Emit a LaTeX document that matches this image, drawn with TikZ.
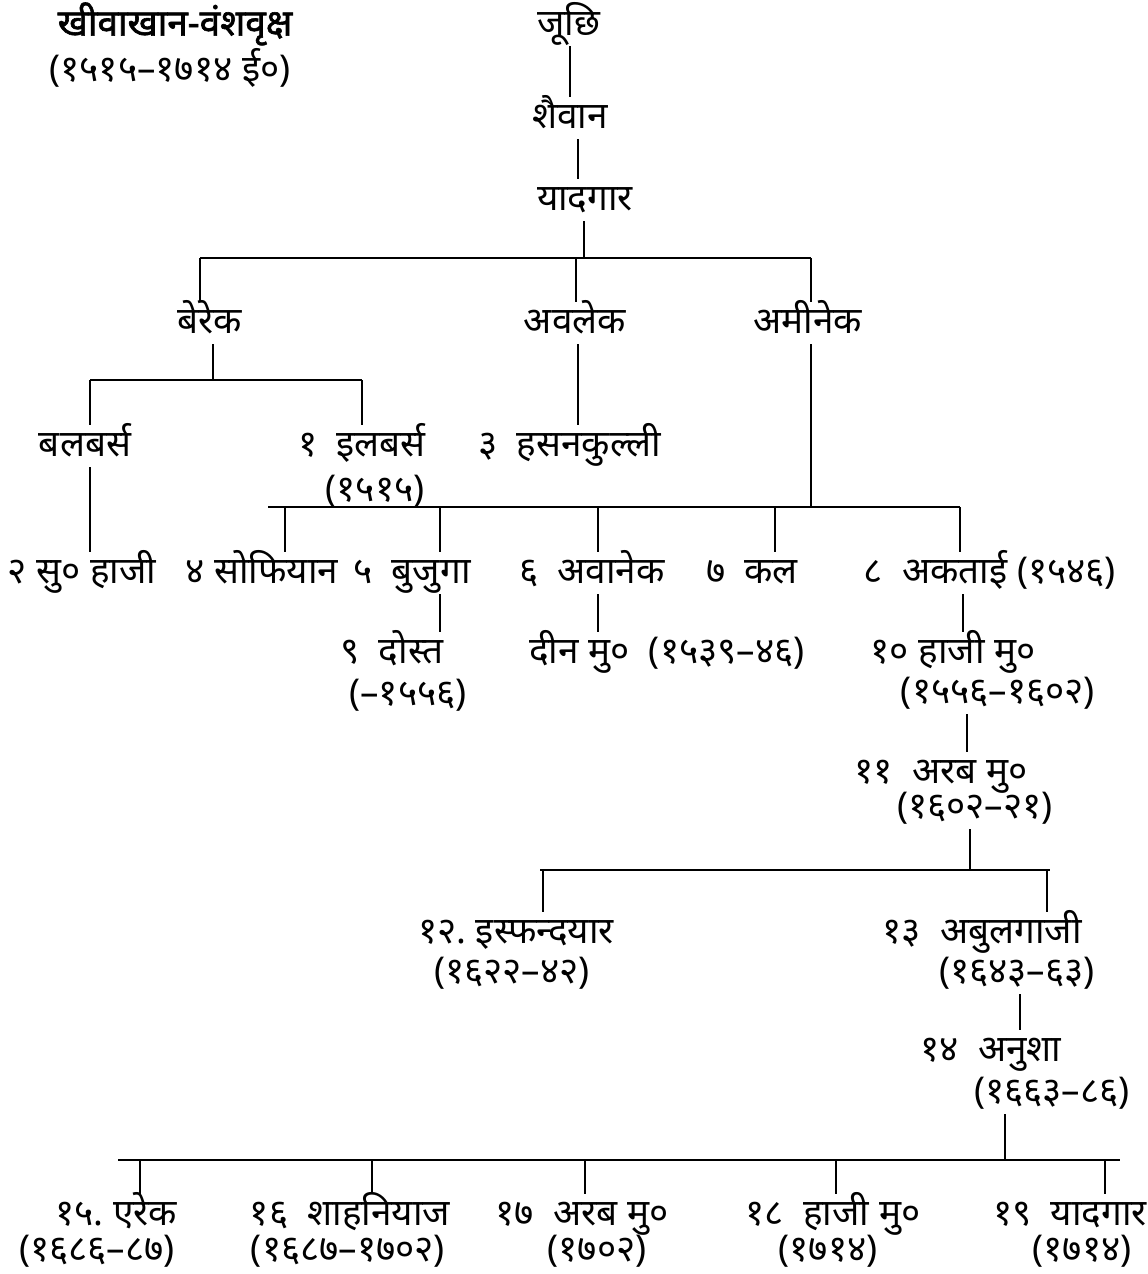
\documentclass[tikz,border=0pt]{standalone}
\usepackage{fontspec}
\setmainfont[Script=Devanagari]{Noto Sans}
\newfontfamily\titlefont[Script=Devanagari,FakeBold=1.6]{Noto Sans}
\begin{document}
\begin{tikzpicture}[x=1cm,y=1cm,
  every node/.style={font=\fontsize{21}{25}\selectfont},
  person/.style={inner sep=1pt,text height=17pt,text depth=5pt},
  kin/.style={line width=0.9pt}]
\useasboundingbox (0,0) rectangle (22.96,-25.48);
\node[person,font=\titlefont\fontsize{21}{25}\selectfont] (title) at (3.5,-0.5) {खीवाखान-वंशवृक्ष};
\node[person] (titleyr) at (3.4,-1.42) {(१५१५–१७१४ ई०)};
\node[person] (juchi) at (11.38,-0.5) {जूछि};
\node[person] (shaivan) at (11.4,-2.36) {शैवान};
\node[person] (yadgar) at (11.7,-4.0) {यादगार};
\node[person] (berek) at (4.2,-6.46) {बेरेक};
\node[person] (avlek) at (11.5,-6.46) {अवलेक};
\node[person] (aminek) at (16.16,-6.46) {अमीनेक};
\node[person] (balbars) at (1.7,-8.92) {बलबर्स};
\node[person] (ilbars) at (7.24,-8.92) {१~~इलबर्स};
\node[person] (ilbarsyr) at (7.5,-9.82) {(१५१५)};
\node[person] (hasan) at (11.4,-8.92) {३~~हसनकुल्ली};
\node[person] (suhaji) at (1.64,-11.46) {२~सु० हाजी};
\node[person] (sofiyan) at (5.24,-11.46) {४ सोफियान};
\node[person] (bujuga) at (8.24,-11.46) {५~~बुजुगा};
\node[person] (avanek) at (11.84,-11.46) {६~~अवानेक};
\node[person] (kal) at (15.04,-11.46) {७~~कल};
\node[person] (aktai) at (19.8,-11.46) {८~~अकताई (१५४६)};
\node[person] (dost) at (7.84,-13.06) {९~~दोस्त};
\node[person] (dostyr) at (8.16,-13.9) {(–१५५६)};
\node[person] (din) at (13.34,-13.06) {दीन मु०~~(१५३९–४६)};
\node[person] (haji) at (19.06,-13.06) {१० हाजी मु०};
\node[person] (hajiyr) at (19.96,-13.86) {(१५५६–१६०२)};
\node[person] (arab) at (18.82,-15.46) {११~~अरब मु०};
\node[person] (arabyr) at (19.5,-16.16) {(१६०२–२१)};
\node[person] (isf) at (10.32,-18.66) {१२.~इस्फन्दयार};
\node[person] (isfyr) at (10.24,-19.46) {(१६२२–४२)};
\node[person] (abul) at (19.64,-18.66) {१३~~अबुलगाजी};
\node[person] (abulyr) at (20.34,-19.46) {(१६४३–६३)};
\node[person] (anusha) at (19.82,-21.02) {१४~~अनुशा};
\node[person] (anushayr) at (21.04,-21.86) {(१६६३–८६)};
\node[person] (erek) at (2.32,-24.3) {१५.~एरेक};
\node[person] (erekyr) at (1.94,-25.02) {(१६८६–८७)};
\node[person] (shah) at (7.0,-24.3) {१६~~शाहनियाज};
\node[person] (shahyr) at (6.96,-25.02) {(१६८७–१७०२)};
\node[person] (arabb) at (11.64,-24.3) {१७~~अरब मु०};
\node[person] (arabbyr) at (11.94,-25.02) {(१७०२)};
\node[person] (hajib) at (16.66,-24.3) {१८~~हाजी मु०};
\node[person] (hajibyr) at (16.56,-25.02) {(१७१४)};
\node[person] (yadb) at (21.4,-24.3) {१९~~यादगार};
\node[person] (yadbyr) at (21.64,-25.02) {(१७१४)};
\coordinate (k1) at (11.4,-1.4);
\coordinate (k2) at (11.56,-3.1);
\coordinate (k3) at (11.68,-5.16);
\coordinate (k4) at (4.26,-7.6);
\coordinate (k5) at (1.8,-10);
\coordinate (k6) at (11.56,-7.6);
\coordinate (k7) at (16.22,-10.14);
\coordinate (k8) at (8.8,-12.2);
\coordinate (k9) at (11.96,-12.2);
\coordinate (k10) at (19.26,-12.2);
\coordinate (k11) at (19.34,-14.6);
\coordinate (k12) at (19.4,-17.4);
\coordinate (k13) at (20.4,-20.2);
\coordinate (k14) at (20.1,-23.2);
\draw[kin] (k1 |- juchi.south) -- (k1 |- shaivan.north);
\draw[kin] (k2 |- shaivan.south) -- (k2 |- yadgar.north);
\draw[kin] (k3 |- yadgar.south) -- (k3);
\draw[kin] (k4 |- berek.south) -- (k4);
\draw[kin] (k5 |- balbars.south) -- (k5 |- suhaji.north);
\draw[kin] (k6 |- avlek.south) -- (k6 |- hasan.north);
\draw[kin] (k7 |- aminek.south) -- (k7);
\draw[kin] (k8 |- bujuga.south) -- (k8 |- dost.north);
\draw[kin] (k9 |- avanek.south) -- (k9 |- din.north);
\draw[kin] (k10 |- aktai.south) -- (k10 |- haji.north);
\draw[kin] (k11 |- hajiyr.south) -- (k11 |- arab.north);
\draw[kin] (k12 |- arabyr.south) -- (k12);
\draw[kin] (k13 |- abulyr.south) -- (k13 |- anusha.north);
\draw[kin] (k14 |- anushayr.south) -- (k14);
\coordinate (b1w) at (4.0,-5.16);
\coordinate (b1m) at (11.52,-5.16);
\coordinate (b1e) at (16.22,-5.16);
\draw[kin] (b1w) -- (b1e);
\draw[kin] (b1w) -- (b1w |- berek.north);
\draw[kin] (b1m) -- (b1m |- avlek.north);
\draw[kin] (b1e) -- (b1e |- aminek.north);
\coordinate (b2w) at (1.8,-7.6);
\coordinate (b2e) at (7.24,-7.6);
\draw[kin] (b2w) -- (b2e);
\draw[kin] (b2w) -- (b2w |- balbars.north);
\draw[kin] (b2e) -- (b2e |- ilbars.north);
\coordinate (b3w) at (5.36,-10.14);
\coordinate (b3a) at (5.7,-10.14);
\coordinate (b3b) at (8.8,-10.14);
\coordinate (b3c) at (11.96,-10.14);
\coordinate (b3d) at (15.5,-10.14);
\coordinate (b3e) at (19.2,-10.14);
\draw[kin] (b3w) -- (b3e);
\draw[kin] (b3a) -- (b3a |- sofiyan.north);
\draw[kin] (b3b) -- (b3b |- bujuga.north);
\draw[kin] (b3c) -- (b3c |- avanek.north);
\draw[kin] (b3d) -- (b3d |- kal.north);
\draw[kin] (b3e) -- (b3e |- aktai.north);
\coordinate (b4w) at (10.8,-17.4);
\coordinate (b4a) at (10.86,-17.4);
\coordinate (b4b) at (20.94,-17.4);
\coordinate (b4e) at (21.0,-17.4);
\draw[kin] (b4w) -- (b4e);
\draw[kin] (b4a) -- (b4a |- isf.north);
\draw[kin] (b4b) -- (b4b |- abul.north);
\coordinate (b5w) at (2.36,-23.2);
\coordinate (b5a) at (2.8,-23.2);
\coordinate (b5b) at (7.44,-23.2);
\coordinate (b5c) at (11.7,-23.2);
\coordinate (b5d) at (16.72,-23.2);
\coordinate (b5e) at (22.1,-23.2);
\coordinate (b5x) at (22.4,-23.2);
\draw[kin] (b5w) -- (b5x);
\draw[kin] (b5a) -- (b5a |- erek.north);
\draw[kin] (b5b) -- (b5b |- shah.north);
\draw[kin] (b5c) -- (b5c |- arabb.north);
\draw[kin] (b5d) -- (b5d |- hajib.north);
\draw[kin] (b5e) -- (b5e |- yadb.north);
\end{tikzpicture}
\end{document}
